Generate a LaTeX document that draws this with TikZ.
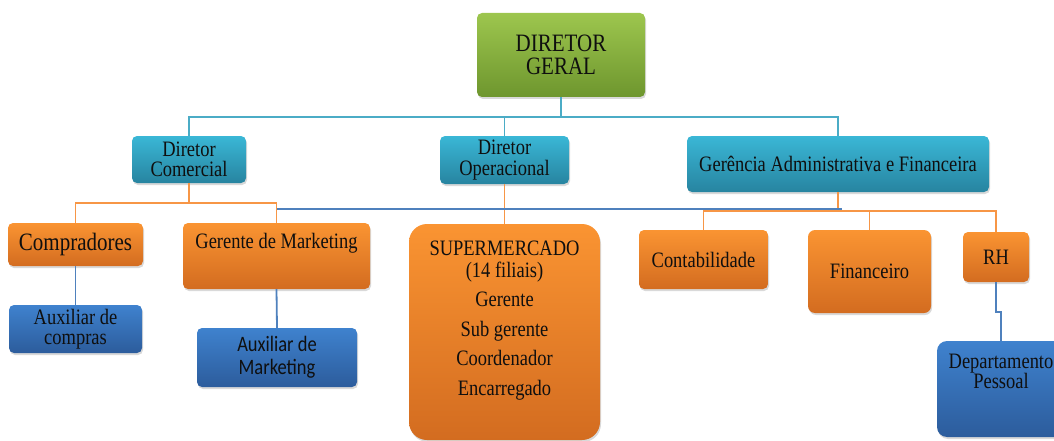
\documentclass[tikz,border=0pt]{standalone}
\usepackage{fontspec}
\setmainfont{Liberation Serif}[FakeStretch=0.84]
\newfontfamily\calfont{Carlito}[FakeStretch=0.84]
\usetikzlibrary{shadows}
\definecolor{gtop}{RGB}{157,198,78}
\definecolor{gbot}{RGB}{110,150,46}
\definecolor{ttop}{RGB}{58,183,214}
\definecolor{tbot}{RGB}{39,132,160}
\definecolor{otop}{RGB}{250,148,50}
\definecolor{obot}{RGB}{211,108,32}
\definecolor{btop}{RGB}{63,130,206}
\definecolor{bbot}{RGB}{44,92,156}
\definecolor{tline}{RGB}{75,172,198}
\definecolor{oline}{RGB}{247,150,70}
\definecolor{bline}{RGB}{79,129,189}
\definecolor{txt}{RGB}{15,15,15}
\begin{document}
\begin{tikzpicture}[x=1pt,y=-1pt,
  box/.style={inner sep=0pt, rounded corners=5pt, align=center, text=txt,
    drop shadow={shadow xshift=1pt, shadow yshift=-2pt, opacity=0.3}},
  gbox/.style={box, top color=gtop, bottom color=gbot},
  tbox/.style={box, top color=ttop, bottom color=tbot},
  obox/.style={box, top color=otop, bottom color=obot},
  bbox/.style={box, top color=btop, bottom color=bbot},
  lbl/.style={inner sep=0pt, align=center, text=txt},
  f22/.style={font=\fontsize{22}{20.5}\selectfont},
  tcon/.style={draw=tline, line width=1.8pt},
  ocon/.style={draw=oline, line width=1.8pt},
  bcon/.style={draw=bline, line width=1.8pt}]
\useasboundingbox (0,0) rectangle (1054,441);

% nodes
\node[gbox, minimum width=168pt, minimum height=84pt, font=\fontsize{25}{23}\selectfont] (geral) at (561,55) {DIRETOR\\GERAL};
\node[tbox, f22, minimum width=114pt, minimum height=47pt] (com) at (189,159.5) {Diretor\\Comercial};
\node[tbox, f22, minimum width=129pt, minimum height=48pt] (op) at (504.5,160) {Diretor\\Operacional};
\node[tbox, f22, minimum width=302pt, minimum height=56pt] (ger) at (838,164) {Ger\^encia Administrativa e Financeira};

\node[obox, minimum width=135pt, minimum height=43pt, font=\fontsize{25}{23}\selectfont] (comp) at (75.5,244.5) {Compradores};
\node[obox, minimum width=187pt, minimum height=66pt] (gm) at (276.5,256) {};
\node[lbl, f22, anchor=base] (gmt) at (276.5,248) {Gerente de Marketing};
\node[obox, rounded corners=18pt, minimum width=191pt, minimum height=216pt] (sup) at (504.5,332) {};
\node[lbl, anchor=north, font=\fontsize{22}{22}\selectfont] (supt) at (504.5,240.5)
  {SUPERMERCADO\\(14 filiais)\\[7.5pt]Gerente\\[7.5pt]Sub gerente\\[7.5pt]Coordenador\\[7.5pt]Encarregado};
\node[obox, f22, minimum width=129pt, minimum height=59pt] (cont) at (703.5,259.5) {Contabilidade};
\node[obox, f22, rounded corners=7pt, minimum width=123pt, minimum height=83pt] (fin) at (869.5,271.5) {Financeiro};
\node[obox, f22, minimum width=66pt, minimum height=50pt] (rh) at (996,257) {RH};

\node[bbox, f22, minimum width=133pt, minimum height=48pt] (auxc) at (75.5,329) {Auxiliar de\\compras};
\node[bbox, minimum width=160pt, minimum height=59pt, font=\calfont\fontsize{22}{23.3}\selectfont] (auxm) at (277,357.5) {Auxiliar de\\Marketing};
\node[bbox, rounded corners=10pt, minimum width=128pt, minimum height=96pt] (dp) at (1001,389) {};
\node[lbl, f22, anchor=north] (dpt) at (1001,353.5) {Departamento\\Pessoal};

% connectors
\draw[tcon] (geral.south) -- ++(0,20) -| (com.north);
\draw[tcon] (geral.south) -- ++(0,20) -| (op.north);
\draw[tcon] (geral.south) -- ++(0,20) -| (ger.north);

\draw[ocon] (com.south) -- ++(0,20) -| (comp.north);
\draw[ocon] (com.south) -- ++(0,20) -| (gm.north);
\draw[ocon] (op.south) -- (sup.north);
\draw[ocon] (ger.south) -- ++(0,19) -| (cont.north);
\draw[ocon] (ger.south) -- ++(0,19) -| (fin.north);
\draw[ocon] (ger.south) -- ++(0,19) -| (rh.north);

\coordinate (b1) at (277,209);
\coordinate (b2) at (842,209);
\draw[bcon] (b1) -- (b2);
\draw[bcon] (comp.south) -- (auxc.north);
\draw[bcon] (gm.south) -- (auxm.north);
\draw[bcon] (rh.south) -- ++(0,30) -| (dp.north);
\end{tikzpicture}
\end{document}
